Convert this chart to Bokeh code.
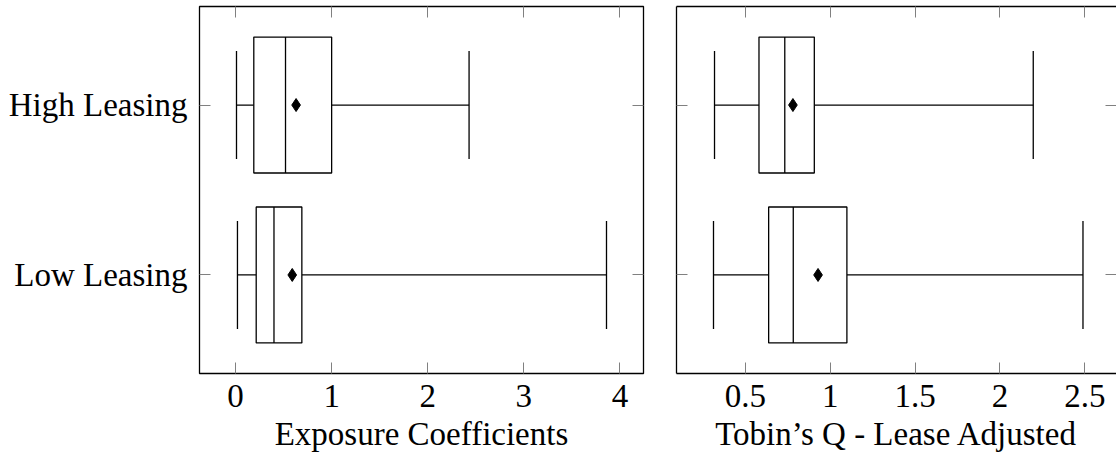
from bokeh.plotting import figure
from bokeh.layouts import row
from bokeh.models import ColumnDataSource, FixedTicker, LinearAxis, CustomLabelingPolicy
from bokeh.embed import file_html
from bokeh.resources import INLINE

# Groups (top to bottom) and their vertical slots
categories = ["High Leasing", "Low Leasing"]
slots = [2, 1]

# Exposure coefficients: box-plot summaries
exp_min = [0.01, 0.02]
exp_q1 = [0.19, 0.215]
exp_med = [0.52, 0.40]
exp_q3 = [1.00, 0.69]
exp_max = [2.43, 3.86]
exp_mean = [0.63, 0.59]

# Tobin's Q (lease adjusted): box-plot summaries
tq_min = [0.318, 0.312]
tq_q1 = [0.58, 0.637]
tq_med = [0.732, 0.782]
tq_q3 = [0.906, 1.098]
tq_max = [2.196, 2.489]
tq_mean = [0.78, 0.928]

exp_ticks = [0, 1, 2, 3, 4]
tq_ticks = [0.5, 1, 1.5, 2, 2.5]
tq_tick_labels = ["0.5", "1", "1.5", "2", "2.5"]

FONT = "Liberation Serif"
FS = "33px"
BOX_H = 0.8
CAP_H = 0.636
LW = 1.3
TICK_COLOR = "#808080"

# Mirrored tick axes carry ticks only: drop all of their labels
NO_LABELS = "for (const i of indices) indices.unset(i); return indices;"


def source(lo, q1, med, q3, hi, mean):
    return ColumnDataSource(dict(
        y=slots, lo=lo, q1=q1, med=med, q3=q3, hi=hi, mean=mean,
        box_bot=[s - BOX_H / 2 for s in slots], box_top=[s + BOX_H / 2 for s in slots],
        cap_bot=[s - CAP_H / 2 for s in slots], cap_top=[s + CAP_H / 2 for s in slots],
    ))


def draw_boxes(p, src):
    p.segment(x0="lo", x1="q1", y0="y", y1="y", source=src, line_color="black", line_width=LW)
    p.segment(x0="q3", x1="hi", y0="y", y1="y", source=src, line_color="black", line_width=LW)
    p.segment(x0="lo", x1="lo", y0="cap_bot", y1="cap_top", source=src, line_color="black", line_width=LW)
    p.segment(x0="hi", x1="hi", y0="cap_bot", y1="cap_top", source=src, line_color="black", line_width=LW)
    p.hbar(y="y", left="q1", right="q3", height=BOX_H, source=src,
           fill_color="white", line_color="black", line_width=LW)
    p.segment(x0="med", x1="med", y0="box_bot", y1="box_top", source=src, line_color="black", line_width=LW)
    p.scatter(x="mean", y="y", source=src, marker="diamond", size=13,
              fill_color="black", line_color="black")


def style_axis(ax, ticks, show_labels, line=False):
    ax.ticker = FixedTicker(ticks=ticks)
    ax.major_tick_in = 11
    ax.major_tick_out = 0
    ax.minor_tick_in = 0
    ax.minor_tick_out = 0
    ax.major_tick_line_color = TICK_COLOR
    ax.major_tick_line_width = 1
    ax.axis_line_color = "black" if line else None
    ax.axis_line_width = LW
    ax.major_label_text_font = FONT
    ax.major_label_text_color = "black"
    ax.axis_label_text_font = FONT
    ax.axis_label_text_font_style = "normal"
    ax.axis_label_text_font_size = FS
    ax.axis_label_text_color = "black"
    if show_labels:
        ax.major_label_text_font_size = FS
        ax.major_label_standoff = 11
    else:
        ax.major_label_text_font_size = "0px"
        ax.major_label_policy = CustomLabelingPolicy(code=NO_LABELS)
        ax.major_label_standoff = 0
        ax.axis_label_standoff = 0


# Left panel: exposure coefficients
p1 = figure(width=660, height=456, x_range=(-0.375, 4.245), y_range=(0.42, 2.58),
            output_backend="svg", toolbar_location=None,
            min_border_left=199, min_border_right=17, min_border_top=6, min_border_bottom=83)
p1.grid.visible = False
p1.outline_line_color = "black"
p1.outline_line_width = LW
p1.background_fill_color = "white"
p1.border_fill_color = "white"
style_axis(p1.xaxis[0], exp_ticks, True)
p1.xaxis[0].axis_label = "Exposure Coefficients"
p1.xaxis[0].axis_label_standoff = 6
style_axis(p1.yaxis[0], slots, True)
p1.yaxis[0].major_label_overrides = {s: c for s, c in zip(slots, categories)}
p1.yaxis[0].major_label_standoff = 12
top1 = LinearAxis()
style_axis(top1, exp_ticks, False)
p1.add_layout(top1, "above")
right1 = LinearAxis()
style_axis(right1, slots, False)
p1.add_layout(right1, "right")
draw_boxes(p1, source(exp_min, exp_q1, exp_med, exp_q3, exp_max, exp_mean))

# Right panel: Tobin's Q, lease adjusted
p2 = figure(width=456, height=456, x_range=(0.094, 2.6865), y_range=(0.42, 2.58),
            output_backend="svg", toolbar_location=None,
            min_border_left=16, min_border_right=0, min_border_top=6, min_border_bottom=83)
p2.grid.visible = False
p2.outline_line_color = None
p2.background_fill_color = "white"
p2.border_fill_color = "white"
style_axis(p2.xaxis[0], tq_ticks, True, line=True)
p2.xaxis[0].major_label_overrides = {t: s for t, s in zip(tq_ticks, tq_tick_labels)}
p2.xaxis[0].axis_label = "Tobin\u2019s Q - Lease Adjusted"
p2.xaxis[0].axis_label_standoff = 6
style_axis(p2.yaxis[0], slots, False, line=True)
top2 = LinearAxis()
style_axis(top2, tq_ticks, False, line=True)
p2.add_layout(top2, "above")
right2 = LinearAxis()
style_axis(right2, slots, False)
p2.add_layout(right2, "right")
draw_boxes(p2, source(tq_min, tq_q1, tq_med, tq_q3, tq_max, tq_mean))

layout = row(p1, p2)
open("out.html", "w").write(file_html(layout, INLINE))
